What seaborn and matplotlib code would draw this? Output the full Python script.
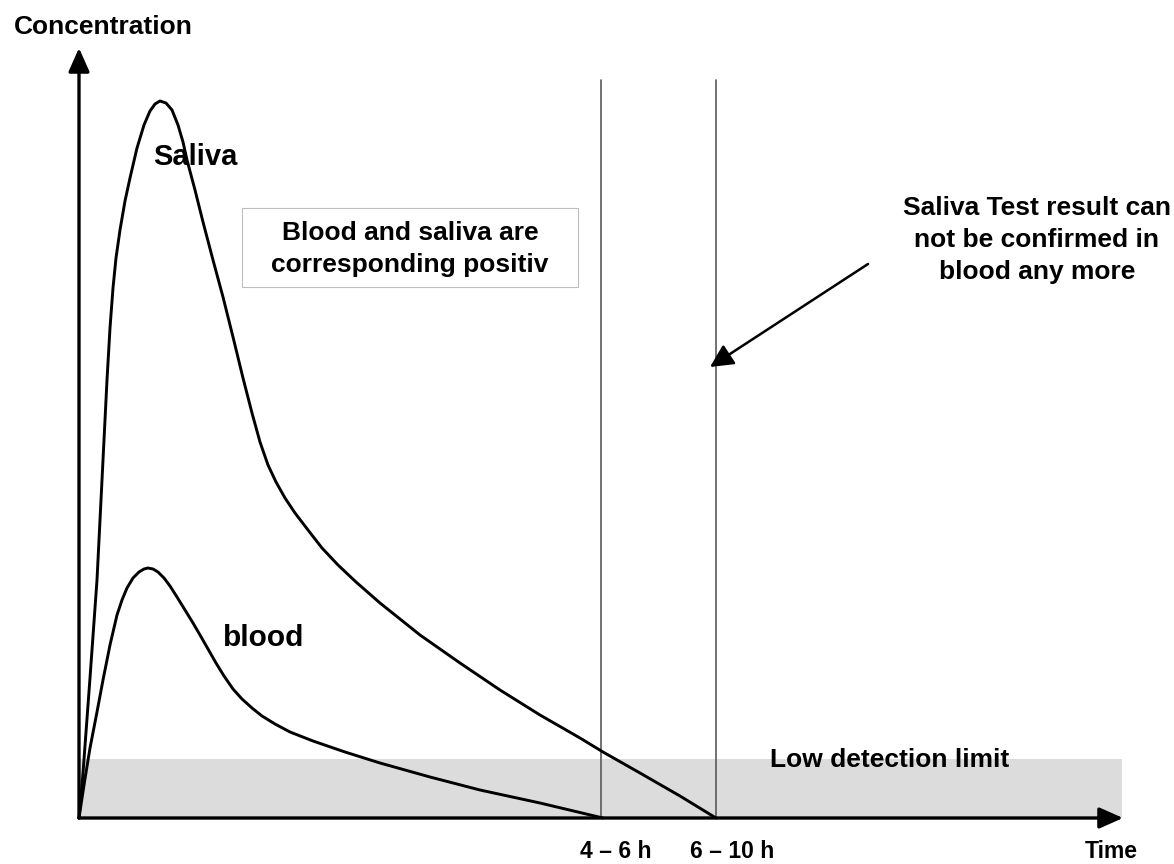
import matplotlib
matplotlib.use("Agg")
import matplotlib.pyplot as plt
import pandas as pd
import seaborn as sns
from matplotlib.patches import Rectangle

# curves (time / concentration in arbitrary units)
saliva_t = [0, 4, 11, 18, 23, 28, 31, 34, 37, 41, 46, 51, 58, 65, 71, 76, 81, 87, 93, 99, 104,
            108, 116, 124, 134, 144, 154, 164, 173, 181, 189, 197, 206, 216, 229, 243, 259,
            277, 301, 341, 381, 421, 461, 501, 524, 561, 601, 637]
saliva_c = [0, 45, 140, 238, 338, 438, 490, 530, 560, 588, 617, 640, 670, 693, 707, 714, 717,
            715, 708, 693, 676, 658, 628, 596, 558, 521, 481, 440, 405, 376, 353, 336, 320,
            305, 288, 270, 253, 236, 215, 183, 155, 128, 103, 80, 66, 45, 22, 0]
blood_t = [0, 5, 11, 18, 24, 31, 38, 43, 48, 54, 60, 65, 69, 74, 79, 85, 91, 98, 106, 114,
           121, 129, 137, 145, 154, 163, 173, 183, 196, 211, 234, 266, 301, 351, 401, 461, 524]
blood_c = [0, 33, 70, 106, 138, 173, 203, 218, 230, 240, 246, 249, 250, 249, 246, 240, 232,
           221, 208, 195, 183, 169, 155, 142, 129, 119, 110, 102, 94, 86, 77, 66, 55, 41, 28,
           15, 0]

# time marks (vertical lines) and their labels
mark_t = [522, 637]
mark_labels = ["4 \u2013 6 h", "6 \u2013 10 h"]
label_t = [537, 653]
detection_limit = 59
axis_end_t = 1044
axis_end_c = 770

df = pd.concat([
    pd.DataFrame({"time": saliva_t, "conc": saliva_c, "fluid": "Saliva"}),
    pd.DataFrame({"time": blood_t, "conc": blood_c, "fluid": "blood"}),
])

sns.set_theme(style="white")
plt.rcParams["font.family"] = ["Liberation Sans", "DejaVu Sans"]
plt.rcParams["font.weight"] = "bold"
plt.rcParams["text.color"] = "black"

fig = plt.figure(figsize=(11.74, 8.64), dpi=100)
ax = fig.add_axes([0, 0, 1, 1])
ax.axis("off")

# low detection band
ax.fill_between([0, axis_end_t - 1], 0, detection_limit, color="#dcdcdc", lw=0, zorder=0)

# vertical time marks
for t in mark_t:
    ax.plot([t, t], [0, 738], color="#5a5a5a", lw=1.2, zorder=1)

sns.lineplot(data=df, x="time", y="conc", hue="fluid", units="fluid", estimator=None,
             sort=False, palette={"Saliva": "black", "blood": "black"}, lw=2.1,
             legend=False, ax=ax, zorder=3)
ax.set_xlim(-79, 1095)
ax.set_ylim(-46, 818)
ax.axis("off")

# axes with arrows
arrow = dict(arrowstyle="-|>,head_length=0.45,head_width=0.2", color="black", lw=2.4,
             shrinkA=0, shrinkB=0, mutation_scale=32)
ax.annotate("", xy=(axis_end_t, 0), xytext=(0, 0), arrowprops=arrow, zorder=4)
ax.annotate("", xy=(0, axis_end_c), xytext=(0, 0), arrowprops=arrow, zorder=4)

# text box
ax.add_patch(Rectangle((163, 531), 336, 79, fill=False, ec="#bdbdbd", lw=0.8, zorder=2))
ax.text(331, 569, "Blood and saliva are\ncorresponding positiv", ha="center", va="center",
        fontsize=19, fontweight="bold", linespacing=1.37, color="black")

ax.text(24, 791, "Concentration", ha="center", va="center", fontsize=19, fontweight="bold",
        color="black")
ax.text(116, 661, "Saliva", ha="center", va="center", fontsize=21, fontweight="bold",
        color="black")
ax.text(185, 180, "blood", ha="center", va="center", fontsize=21.5, fontweight="bold",
        color="black")
ax.text(811, 58, "Low detection limit", ha="center", va="center", fontsize=19,
        fontweight="bold", color="black")

ax.text(958, 578, "Saliva Test result can\nnot be confirmed in\nblood any more",
        ha="center", va="center", fontsize=19, fontweight="bold", linespacing=1.42,
        color="black")
ax.annotate("", xy=(631, 451), xytext=(789, 554),
            arrowprops=dict(arrowstyle="-|>,head_length=0.5,head_width=0.25", color="black",
                            lw=1.8, shrinkA=0, shrinkB=0, mutation_scale=28))

for t, lab in zip(label_t, mark_labels):
    ax.text(t, -34, lab, ha="center", va="center", fontsize=16.5, fontweight="bold",
            color="black")
ax.text(1032, -34, "Time", ha="center", va="center", fontsize=16.5, fontweight="bold",
        color="black")

fig.savefig("out.png", dpi=100)
